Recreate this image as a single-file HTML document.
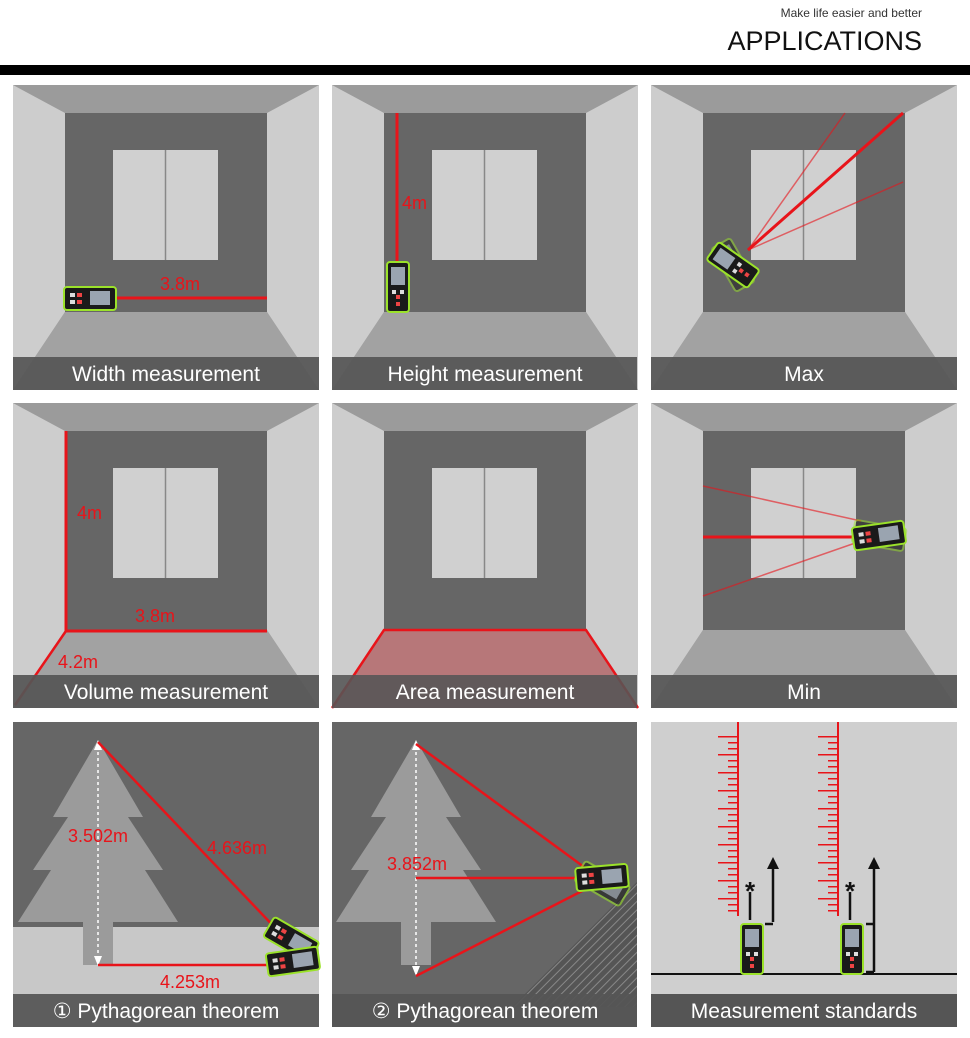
<!DOCTYPE html>
<html><head><meta charset="utf-8"><style>
body{margin:0;background:#fff;width:970px;height:1038px;overflow:hidden}
svg{display:block}
.lb{font-family:"Liberation Sans Narrow","Liberation Sans",sans-serif;font-size:21px;fill:#fff;text-anchor:middle}
.rt{font-family:"Liberation Sans Narrow","Liberation Sans",sans-serif;font-size:18px;fill:#e8141a}
</style></head><body>
<svg width="970" height="1038" viewBox="0 0 970 1038" xmlns="http://www.w3.org/2000/svg">
<defs>
<g id="room">
<rect width="306" height="305" fill="#a0a0a0"/>
<polygon points="0,0 306,0 254,28 52,28" fill="#9b9b9b"/>
<polygon points="0,0 52,28 52,227 0,305" fill="#cdcdcd"/>
<polygon points="306,0 254,28 254,227 306,305" fill="#cdcdcd"/>
<rect x="52" y="28" width="202" height="199" fill="#666"/>
<polygon points="52,227 254,227 306,305 0,305" fill="#a2a2a2"/>
<rect x="100" y="65" width="105" height="110" fill="#d0d0d0"/>
<line x1="152.5" y1="65" x2="152.5" y2="175" stroke="#888" stroke-width="1.5"/>
</g>
<g id="devh">
<rect x="0" y="0" width="52" height="23" rx="3" fill="#1a1a1a" stroke="#9be22a" stroke-width="2"/>
<rect x="26" y="4" width="20" height="14" fill="#9aa4b0"/>
<rect x="6" y="6" width="5" height="4" fill="#ddd"/><rect x="13" y="6" width="5" height="4" fill="#e44"/>
<rect x="6" y="13" width="5" height="4" fill="#ddd"/><rect x="13" y="13" width="5" height="4" fill="#e44"/>
</g>
<g id="devv">
<rect x="0" y="0" width="22" height="50" rx="3" fill="#1a1a1a" stroke="#9be22a" stroke-width="2"/>
<rect x="4" y="5" width="14" height="18" fill="#9aa4b0"/>
<rect x="5" y="28" width="4" height="4" fill="#ddd"/><rect x="13" y="28" width="4" height="4" fill="#ddd"/>
<rect x="9" y="33" width="4" height="4" fill="#e44"/><rect x="9" y="40" width="4" height="4" fill="#e44"/>
</g>
<pattern id="hatch" width="6" height="6" patternUnits="userSpaceOnUse" patternTransform="rotate(45)">
<rect width="6" height="6" fill="#555"/><line x1="0" y1="0" x2="0" y2="6" stroke="#888" stroke-width="2"/>
</pattern>
<polygon id="tree" points="85,18 130,95 115,95 150,148 132,148 165,200 100,200 100,243 70,243 70,200 5,200 38,148 20,148 55,95 40,95"/>
<g id="ruler">
<line x1="82" y1="14" x2="82" y2="190" stroke="#e8141a" stroke-width="10" stroke-dasharray="1.5,4.5"/>
<line x1="77" y1="14" x2="77" y2="190" stroke="#e8141a" stroke-width="20" stroke-dasharray="1.5,16.5"/>
<line x1="87" y1="0" x2="87" y2="194" stroke="#e8141a" stroke-width="2"/>
</g>
</defs>

<text x="922" y="17" font-family="Liberation Sans,sans-serif" font-size="12" fill="#333" text-anchor="end">Make life easier and better</text>
<text x="922" y="50" font-family="Liberation Sans,sans-serif" font-size="27" fill="#111" text-anchor="end">APPLICATIONS</text>
<rect x="0" y="65" width="970" height="10" fill="#000"/>

<g transform="translate(13,85)"><use href="#room"/>
<line x1="100" y1="213" x2="254" y2="213" stroke="#e8141a" stroke-width="3"/>
<text class="rt" x="147" y="205">3.8m</text>
<use href="#devh" x="51" y="202"/>
<rect y="272" width="306" height="33" fill="#555" opacity="0.93"/><text class="lb" x="153" y="296">Width measurement</text></g>

<g transform="translate(332,85)"><use href="#room"/>
<line x1="65" y1="28" x2="65" y2="178" stroke="#e8141a" stroke-width="3"/>
<text class="rt" x="70" y="124">4m</text>
<use href="#devv" x="55" y="177"/>
<rect y="272" width="305" height="33" fill="#555" opacity="0.93"/><text class="lb" x="153" y="296">Height measurement</text></g>

<g transform="translate(651,85)"><use href="#room"/>
<line x1="97" y1="165" x2="194" y2="28" stroke="#e8141a" stroke-width="1.5" opacity="0.6"/>
<line x1="97" y1="165" x2="252" y2="97" stroke="#e8141a" stroke-width="1.5" opacity="0.6"/>
<line x1="97" y1="165" x2="252" y2="28" stroke="#e8141a" stroke-width="3"/>
<g transform="translate(82,180) rotate(-30)"><use href="#devv" x="-11" y="-25" opacity="0.5"/></g>
<g transform="translate(82,180) rotate(-55)"><use href="#devv" x="-11" y="-25"/></g>
<rect y="272" width="306" height="33" fill="#555" opacity="0.93"/><text class="lb" x="153" y="296">Max</text></g>

<g transform="translate(13,403)"><use href="#room"/>
<polyline points="53,28 53,228 254,228" fill="none" stroke="#e8141a" stroke-width="3"/>
<line x1="53" y1="228" x2="2" y2="302" stroke="#e8141a" stroke-width="2.5"/>
<text class="rt" x="64" y="116">4m</text>
<text class="rt" x="122" y="219">3.8m</text>
<text class="rt" x="45" y="265">4.2m</text>
<rect y="272" width="306" height="33" fill="#555" opacity="0.93"/><text class="lb" x="153" y="296">Volume measurement</text></g>

<g transform="translate(332,403)"><use href="#room"/>
<polygon points="52,227 254,227 306,305 0,305" fill="#e8141a" opacity="0.3"/>
<polyline points="0,305 52,227 254,227 306,305" fill="none" stroke="#e8141a" stroke-width="2.5"/>
<rect y="272" width="305" height="33" fill="#555" opacity="0.88"/><text class="lb" x="153" y="296">Area measurement</text></g>

<g transform="translate(651,403)"><use href="#room"/>
<line x1="210" y1="118" x2="52" y2="83" stroke="#e8141a" stroke-width="1.5" opacity="0.6"/>
<line x1="210" y1="138" x2="52" y2="193" stroke="#e8141a" stroke-width="1.5" opacity="0.6"/>
<line x1="210" y1="134" x2="52" y2="134" stroke="#e8141a" stroke-width="3"/>
<g transform="translate(228,133) rotate(10)"><use href="#devh" x="-26" y="-12" opacity="0.5"/></g>
<g transform="translate(228,133) rotate(-8)"><use href="#devh" x="-26" y="-12"/></g>
<rect y="272" width="306" height="33" fill="#555" opacity="0.93"/><text class="lb" x="153" y="296">Min</text></g>

<g transform="translate(13,722)">
<rect width="306" height="305" fill="#666"/>
<rect y="205" width="306" height="100" fill="#c8c8c8"/>
<use href="#tree" fill="#9b9b9b"/>
<line x1="85" y1="24" x2="85" y2="240" stroke="#fff" stroke-width="1.5" stroke-dasharray="3,3"/>
<polygon points="85,18 81,28 89,28" fill="#fff"/><polygon points="85,244 81,234 89,234" fill="#fff"/>
<line x1="85" y1="20" x2="268" y2="212" stroke="#e8141a" stroke-width="2.5"/>
<line x1="85" y1="243" x2="262" y2="243" stroke="#e8141a" stroke-width="2.5"/>
<text class="rt" x="55" y="120">3.502m</text>
<text class="rt" x="194" y="132">4.636m</text>
<text class="rt" x="147" y="266">4.253m</text>
<g transform="translate(278,218) rotate(30)"><use href="#devh" x="-26" y="-12"/></g>
<g transform="translate(280,240) rotate(-8)"><use href="#devh" x="-26" y="-12"/></g>
<rect y="272" width="306" height="33" fill="#555" opacity="0.93"/><text class="lb" x="153" y="296">① Pythagorean theorem</text></g>

<g transform="translate(332,722)">
<rect width="305" height="305" fill="#666"/>
<polygon points="180,285 305,160 305,285" fill="url(#hatch)"/>
<use href="#tree" fill="#9b9b9b" transform="translate(-1,0)"/>
<line x1="84" y1="24" x2="84" y2="250" stroke="#fff" stroke-width="1.5" stroke-dasharray="3,3"/>
<polygon points="84,18 80,28 88,28" fill="#fff"/><polygon points="84,254 80,244 88,244" fill="#fff"/>
<line x1="84" y1="22" x2="252" y2="145" stroke="#e8141a" stroke-width="2.5"/>
<line x1="84" y1="156" x2="252" y2="156" stroke="#e8141a" stroke-width="2.5"/>
<line x1="84" y1="254" x2="252" y2="168" stroke="#e8141a" stroke-width="2.5"/>
<text class="rt" x="55" y="148">3.852m</text>
<g transform="translate(270,162) rotate(30)"><use href="#devh" x="-26" y="-12" opacity="0.6"/></g>
<g transform="translate(270,156) rotate(-5)"><use href="#devh" x="-26" y="-12"/></g>
<rect y="272" width="305" height="33" fill="#555" opacity="0.93"/><text class="lb" x="153" y="296">② Pythagorean theorem</text></g>

<g transform="translate(651,722)">
<rect width="306" height="305" fill="#cfcfcf"/>
<use href="#ruler"/>
<use href="#ruler" x="100"/>
<line x1="0" y1="252" x2="306" y2="252" stroke="#111" stroke-width="2"/>
<use href="#devv" x="90" y="202"/><use href="#devv" x="190" y="202"/>
<g stroke="#111" stroke-width="2.5">
<line x1="99" y1="170" x2="99" y2="198"/><line x1="199" y1="170" x2="199" y2="198"/>
<line x1="122" y1="200" x2="122" y2="145"/><line x1="114" y1="202" x2="122" y2="202"/>
<line x1="223" y1="250" x2="223" y2="145"/><line x1="215" y1="202" x2="223" y2="202"/><line x1="215" y1="250" x2="223" y2="250"/>
</g>
<polygon points="122,135 116,147 128,147" fill="#111"/><polygon points="223,135 217,147 229,147" fill="#111"/>
<text x="99" y="178" font-family="Liberation Sans,sans-serif" font-size="26" font-weight="bold" fill="#111" text-anchor="middle">*</text>
<text x="199" y="178" font-family="Liberation Sans,sans-serif" font-size="26" font-weight="bold" fill="#111" text-anchor="middle">*</text>
<rect y="272" width="306" height="33" fill="#555"/><text class="lb" x="153" y="296">Measurement standards</text></g>
</svg>
</body></html>
